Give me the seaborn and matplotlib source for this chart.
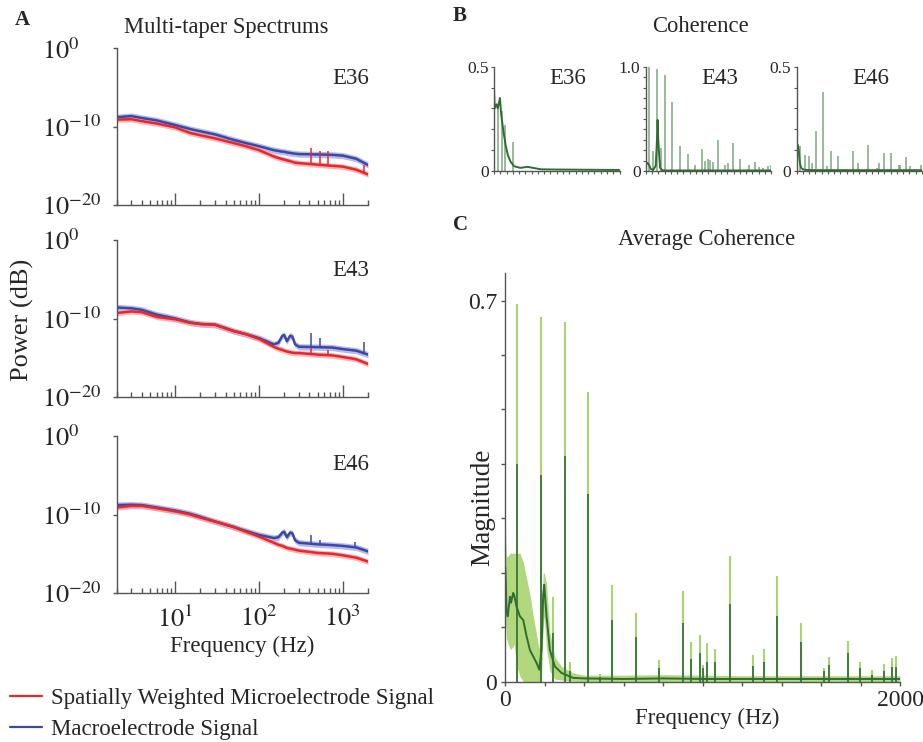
import numpy as np
import pandas as pd
import matplotlib
matplotlib.use("Agg")
import matplotlib.pyplot as plt
from matplotlib.lines import Line2D
from matplotlib.ticker import LogLocator, NullLocator
import seaborn as sns

sns.set_style("white")
plt.rcParams["font.family"] = ["Liberation Serif", "DejaVu Serif"]
plt.rcParams["mathtext.fontset"] = "stix"

# ---------------- DATA ----------------
# Panel A: multi-taper spectra, log10(power)
spec_freqs = [2, 3, 4, 6, 10, 15, 20, 30, 50, 70, 100, 150, 170, 190, 200, 215,
              235, 250, 270, 300, 500, 750, 1000, 1450, 2000]
electrodes = ["E36", "E43", "E46"]

e36_macro = [-8.8, -8.65, -8.9, -9.2, -9.8, -10.3, -10.6, -11.0, -11.7, -12.1, -12.5, -13.0,
             -13.1, -13.2, -13.2, -13.3, -13.35, -13.4, -13.45, -13.5, -13.55, -13.6, -13.7,
             -14.1, -14.9]
e36_micro = [-9.1, -9.05, -9.3, -9.6, -10.1, -10.8, -11.1, -11.5, -12.1, -12.5, -13.0, -13.8,
             -14.0, -14.15, -14.2, -14.3, -14.4, -14.5, -14.6, -14.65, -14.85, -15.0, -15.1,
             -15.5, -16.1]
e43_macro = [-8.6, -8.7, -8.9, -9.5, -10.0, -10.5, -10.7, -10.8, -11.6, -12.0, -12.5, -13.3,
             -13.1, -12.2, -12.1, -12.9, -12.2, -12.3, -13.3, -13.6, -13.65, -13.7, -13.9,
             -14.1, -14.6]
e43_micro = [-9.3, -9.1, -9.2, -9.8, -10.1, -10.55, -10.7, -10.8, -11.6, -12.0, -12.6, -13.6,
             -13.85, -14.0, -14.1, -14.2, -14.3, -14.35, -14.4, -14.4, -14.6, -14.7, -14.9,
             -15.2, -15.8]
e46_macro = [-8.8, -8.75, -8.8, -9.1, -9.5, -9.9, -10.3, -10.9, -11.6, -12.1, -12.6, -13.0,
             -12.9, -12.3, -12.2, -12.9, -12.3, -12.4, -13.3, -13.6, -13.8, -13.9, -14.0,
             -14.2, -14.7]
e46_micro = [-9.1, -8.9, -8.9, -9.2, -9.6, -10.0, -10.4, -10.9, -11.6, -12.2, -12.8, -13.6,
             -13.85, -14.0, -14.1, -14.25, -14.35, -14.4, -14.5, -14.6, -14.9, -15.0, -15.2,
             -15.5, -16.0]

# line-noise spikes: (frequency Hz, base log10, peak log10)
e36_micro_spikes = [(415, -14.8, -12.7), (530, -14.9, -13.1), (660, -14.95, -13.1), (1800, -15.8, -14.9)]
e36_macro_spikes = []
e43_macro_spikes = [(415, -13.6, -11.9), (530, -13.65, -12.5), (1800, -14.4, -13.0)]
e43_micro_spikes = [(415, -14.55, -13.7), (660, -14.65, -14.0)]
e46_macro_spikes = [(419, -13.7, -12.6), (537, -13.75, -13.2), (1400, -14.15, -13.5)]
e46_micro_spikes = []

spec_macro = [e36_macro, e43_macro, e46_macro]
spec_micro = [e36_micro, e43_micro, e46_micro]
spikes_macro = [e36_macro_spikes, e43_macro_spikes, e46_macro_spikes]
spikes_micro = [e36_micro_spikes, e43_micro_spikes, e46_micro_spikes]

legend_labels = ["Spatially Weighted Microelectrode Signal", "Macroelectrode Signal"]

# Panel B: coherence per electrode
coh_ylim = [0.5, 1.0, 0.5]
coh_ylabels = ["0.5", "1.0", "0.5"]
e36_coh_f = [0, 10, 40, 60, 95, 115, 150, 185, 220, 265, 320, 420, 530, 750, 1000, 1500, 2000]
e36_coh_v = [0.40, 0.30, 0.32, 0.30, 0.35, 0.27, 0.19, 0.125, 0.077, 0.044, 0.023, 0.015,
             0.02, 0.008, 0.007, 0.006, 0.005]
e43_coh_f = [0, 20, 40, 60, 80, 120, 160, 180, 190, 200, 215, 230, 260, 300, 500, 1000, 2000]
e43_coh_v = [0.05, 0.08, 0.07, 0.05, 0.02, 0.01, 0.05, 0.30, 0.49, 0.30, 0.15, 0.03, 0.01,
             0.005, 0.005, 0.005, 0.005]
e46_coh_f = [0, 10, 20, 35, 50, 60, 75, 100, 150, 300, 1000, 2000]
e46_coh_v = [0.08, 0.11, 0.125, 0.10, 0.05, 0.03, 0.015, 0.008, 0.005, 0.004, 0.004, 0.004]
# spikes: (frequency Hz, height)
e36_coh_spikes = [(60, 0.31), (120, 0.29), (180, 0.22), (300, 0.14)]
e43_coh_spikes = [(59, 1.0), (123, 0.19), (187, 0.98), (240, 0.22), (309, 0.92), (421, 0.66),
                  (544, 0.24), (667, 0.16), (789, 0.056), (896, 0.21), (944, 0.095),
                  (987, 0.115), (1024, 0.105), (1067, 0.082), (1147, 0.30), (1264, 0.062),
                  (1307, 0.072), (1387, 0.27), (1504, 0.115), (1627, 0.023), (1653, 0.056),
                  (1744, 0.082), (1803, 0.04), (1867, 0.03), (1947, 0.05), (1989, 0.062)]
e46_coh_spikes = [(53, 0.12), (128, 0.077), (192, 0.072), (251, 0.04), (309, 0.194),
                  (373, 0.01), (427, 0.378), (491, 0.023), (544, 0.096), (667, 0.072),
                  (784, 0.008), (901, 0.098), (987, 0.036), (1141, 0.125), (1280, 0.016),
                  (1317, 0.036), (1387, 0.088), (1504, 0.088), (1627, 0.028), (1648, 0.031),
                  (1744, 0.065), (1808, 0.023), (1984, 0.028)]
coh_f = [e36_coh_f, e43_coh_f, e46_coh_f]
coh_v = [e36_coh_v, e43_coh_v, e46_coh_v]
coh_spikes = [e36_coh_spikes, e43_coh_spikes, e46_coh_spikes]

# Panel C: average coherence
avg_f = [0, 3, 6, 12, 24, 29, 40, 45, 57, 74, 91, 108, 125, 142, 159, 172, 184, 192, 197,
         209, 226, 251, 285, 344, 400, 600, 800, 1000, 1200, 1400, 1600, 1800, 2000]
avg_mean = [0.21, 0.18, 0.13, 0.12, 0.156, 0.145, 0.163, 0.159, 0.138, 0.12, 0.113, 0.083,
            0.058, 0.046, 0.034, 0.022, 0.06, 0.16, 0.178, 0.12, 0.058, 0.028, 0.016, 0.007,
            0.006, 0.005, 0.006, 0.005, 0.005, 0.005, 0.005, 0.005, 0.005]
avg_upper = [0.30, 0.25, 0.23, 0.23, 0.236, 0.236, 0.236, 0.236, 0.236, 0.236, 0.22, 0.19,
             0.16, 0.12, 0.085, 0.06, 0.12, 0.20, 0.20, 0.18, 0.09, 0.045, 0.028, 0.016,
             0.012, 0.012, 0.013, 0.012, 0.011, 0.011, 0.011, 0.011, 0.011]
avg_lower = [0.10, 0.10, 0.08, 0.071, 0.06, 0.06, 0.065, 0.07, 0.03, 0.01, 0.0, 0.0, 0.0,
             0.0, 0.0, 0.0, 0.01, 0.10, 0.12, 0.06, 0.02, 0.005, 0.003, 0.001, 0.0, 0.0,
             0.0, 0.0, 0.0, 0.0, 0.0, 0.0, 0.0]
# spikes: (frequency Hz, mean height, upper-band height)
avg_spikes = [(61, 0.40, 0.693), (181, 0.38, 0.669), (302, 0.414, 0.661), (421, 0.345, 0.532),
              (242, 0.089, 0.155), (328, 0.02, 0.037), (481, 0.008, 0.015), (541, 0.113, 0.178),
              (661, 0.083, 0.126), (781, 0.025, 0.04), (900, 0.107, 0.167), (939, 0.041, 0.072),
              (988, 0.052, 0.086), (1003, 0.025, 0.03), (1020, 0.037, 0.071), (1061, 0.036, 0.06),
              (1139, 0.143, 0.23), (1257, 0.029, 0.049), (1312, 0.037, 0.06), (1378, 0.121, 0.194),
              (1497, 0.072, 0.107), (1616, 0.019, 0.025), (1640, 0.031, 0.046), (1737, 0.052, 0.075),
              (1797, 0.025, 0.036), (1858, 0.012, 0.022), (1920, 0.019, 0.033), (1961, 0.027, 0.043),
              (1980, 0.027, 0.048)]

# ---------------- STYLE ----------------
W, H = 923, 742
RED, RED_BAND = "#e8262b", "#f5a3a6"
BLUE, BLUE_BAND = "#3a48a8", "#a6a9e6"
DKGREEN, LTGREEN = "#2f6d32", "#a9d46f"
SPIKEGREEN = "#6f9f70"
SPINE = "#555555"


def fx(px):
    return px / W


def fy(py):
    return 1 - py / H


def add_ax(left, top, right, bottom):
    return fig.add_axes([fx(left), fy(bottom), (right - left) / W, (bottom - top) / H])


fig = plt.figure(figsize=(W / 100, H / 100), dpi=100)


def style_spines(ax):
    for s in ["top", "right"]:
        ax.spines[s].set_visible(False)
    for s in ["left", "bottom"]:
        ax.spines[s].set_color(SPINE)
        ax.spines[s].set_linewidth(1.0)
    ax.tick_params(which="both", bottom=True, left=True, top=False, right=False)


# ---------------- PANEL A ----------------
a_rows = [(48.3, 205), (240, 397), (436, 593)]
for i, (top, bottom) in enumerate(a_rows):
    ax = add_ax(116.7, top, 368, bottom)
    ax.set_xscale("log")
    ax.set_yscale("log")
    f = np.array(spec_freqs, dtype=float)
    mac = np.array(spec_macro[i])
    mic = np.array(spec_micro[i])
    ax.fill_between(f, 10 ** (mac - 0.4), 10 ** (mac + 0.4), color=BLUE_BAND, alpha=0.8, lw=0)
    ax.fill_between(f, 10 ** (mic - 0.35), 10 ** (mic + 0.35), color=RED_BAND, alpha=0.8, lw=0)
    df = pd.DataFrame({
        "freq": list(f) * 2,
        "power": list(10 ** mac) + list(10 ** mic),
        "signal": [legend_labels[1]] * len(f) + [legend_labels[0]] * len(f),
    })
    sns.lineplot(data=df, x="freq", y="power", hue="signal",
                 palette={legend_labels[0]: RED, legend_labels[1]: BLUE},
                 estimator=None, sort=False, legend=False, lw=1.8, ax=ax)
    for (sf, b, p) in spikes_macro[i]:
        ax.vlines(sf, 10 ** b, 10 ** p, color=BLUE, lw=1.1)
    for (sf, b, p) in spikes_micro[i]:
        ax.vlines(sf, 10 ** b, 10 ** p, color=RED, lw=1.1)
    ax.set_xlim(2, 2000)
    ax.set_ylim(1e-20, 1e0)
    ax.set_xlabel("")
    ax.set_ylabel("")
    style_spines(ax)
    ax.set_yticks([1e0, 1e-10, 1e-20])
    ax.set_yticklabels([r"$10^{0}$", r"$10^{-10}$", r"$10^{-20}$"], fontsize=19)
    ax.yaxis.set_minor_locator(NullLocator())
    for lab in ax.get_yticklabels():
        lab.set_horizontalalignment("left")
    ax.tick_params(axis="y", which="major", direction="out", length=3, width=1,
                   color=SPINE, pad=51)
    ax.set_xticks([10, 100, 1000])
    ax.xaxis.set_minor_locator(LogLocator(base=10, subs=np.arange(2, 10), numticks=20))
    ax.tick_params(axis="x", which="major", direction="in", length=8.5, width=1, color=SPINE)
    ax.tick_params(axis="x", which="minor", direction="in", length=3.5, width=1, color=SPINE)
    if i < 2:
        ax.tick_params(axis="x", which="both", labelbottom=False)
    else:
        ax.set_xticklabels([r"$10^{1}$", r"$10^{2}$", r"$10^{3}$"], fontsize=19)
        ax.tick_params(axis="x", which="major", pad=9)
    ax.set_facecolor("none")
    ax.grid(False)
    e_y = [79, 270, 465][i]
    fig.text(fx(369), fy(e_y), electrodes[i], ha="right", va="center", fontsize=16.5)

fig.text(fx(22), fy(20), "A", ha="center", va="center", fontsize=15, fontweight="bold")
fig.text(fx(226), fy(27), "Multi-taper Spectrums", ha="center", va="center", fontsize=16.3)
fig.text(fx(22), fy(320), "Power (dB)", ha="center", va="center", rotation=90, fontsize=19)
fig.text(fx(242), fy(646), "Frequency (Hz)", ha="center", va="center", fontsize=16.5)

handles = [Line2D([], [], color=RED, lw=1.6), Line2D([], [], color=BLUE, lw=1.6)]
fig.legend(handles, legend_labels, loc="upper left", bbox_to_anchor=(fx(10), fy(688)),
           frameon=False, fontsize=16.5, handlelength=1.4, handletextpad=0.4,
           labelspacing=0.45, borderpad=0, borderaxespad=0)

# ---------------- PANEL B ----------------
b_lefts = [494, 645.7, 796.5]
for i, left in enumerate(b_lefts):
    ax = add_ax(left, 66.7, left + 125.5, 171)
    for (sf, h) in coh_spikes[i]:
        ax.vlines(sf, 0, h, color=SPIKEGREEN, lw=1.1, alpha=0.9)
    dfc = pd.DataFrame({"freq": coh_f[i], "coh": coh_v[i]})
    sns.lineplot(data=dfc, x="freq", y="coh", color=DKGREEN, lw=1.4,
                 estimator=None, sort=False, ax=ax)
    ax.set_xlim(0, 2000)
    ax.set_ylim(0, coh_ylim[i])
    ax.set_xlabel("")
    ax.set_ylabel("")
    style_spines(ax)
    yt = np.round(np.arange(0, coh_ylim[i] + 1e-9, 0.1), 2)
    ax.set_yticks(yt)
    ax.set_yticklabels(["0"] + [""] * (len(yt) - 2) + [coh_ylabels[i]], fontsize=12.5)
    ax.set_xticks(np.arange(0, 2001, 100))
    ax.set_xticklabels([])
    ax.tick_params(axis="both", direction="out", length=2.2, width=0.8, color=SPINE, pad=1.5)
    ax.set_facecolor("none")
    ax.grid(False)
    fig.text(fx(left + 74), fy(79), electrodes[i], ha="center", va="center", fontsize=16.5)

fig.text(fx(460), fy(16), "B", ha="center", va="center", fontsize=15, fontweight="bold")
fig.text(fx(700), fy(26), "Coherence", ha="center", va="center", fontsize=16.3)

# ---------------- PANEL C ----------------
ax = add_ax(505.3, 273.3, 900, 681.7)
ax.fill_between(avg_f, avg_lower, avg_upper, color=LTGREEN, alpha=0.9, lw=0)
for (sf, m, u) in avg_spikes:
    ax.vlines(sf, 0, u, color=LTGREEN, lw=1.5)
dfa = pd.DataFrame({"freq": avg_f, "coh": avg_mean})
sns.lineplot(data=dfa, x="freq", y="coh", color=DKGREEN, lw=1.4,
             estimator=None, sort=False, ax=ax)
for (sf, m, u) in avg_spikes:
    ax.vlines(sf, 0, m, color=DKGREEN, lw=1.2)
ax.set_xlim(0, 2000)
ax.set_ylim(0, 0.75)
ax.set_xlabel("")
ax.set_ylabel("")
style_spines(ax)
ax.set_yticks(np.round(np.arange(0, 0.71, 0.1), 2))
ax.set_yticklabels(["0", "", "", "", "", "", "", "0.7"], fontsize=17)
ax.set_xticks(np.arange(0, 2001, 200))
ax.set_xticklabels(["0"] + [""] * 9 + ["2000"], fontsize=17)
ax.tick_params(axis="both", direction="out", length=3, width=1, color=SPINE, pad=3)
ax.set_facecolor("none")
ax.grid(False)

fig.text(fx(460), fy(225), "C", ha="center", va="center", fontsize=15, fontweight="bold")
fig.text(fx(707), fy(240), "Average Coherence", ha="center", va="center", fontsize=16.3)
fig.text(fx(483), fy(507), "Magnitude", ha="center", va="center", rotation=90, fontsize=19.5)
fig.text(fx(707), fy(718), "Frequency (Hz)", ha="center", va="center", fontsize=16.5)

fig.savefig("out.png", dpi=100)
